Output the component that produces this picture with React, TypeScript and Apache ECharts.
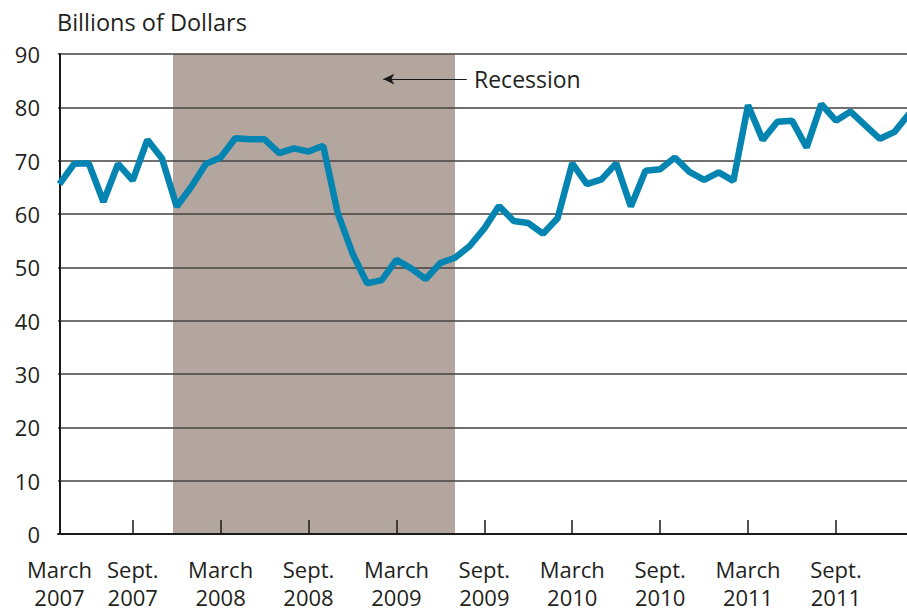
import React, { useEffect, useRef } from "react";
import * as echarts from "echarts";

// Monthly index (0 = first point, March 2007 label) and values, billions of dollars
const values: number[] = [
  65.6, 69.4, 69.5, 62.3, 69.4, 66.3, 73.9, 70.4, 61.4, 65.1,
  69.4, 70.6, 74.2, 74.0, 74.0, 71.4, 72.3, 71.7, 72.8, 60.1,
  52.6, 47.0, 47.6, 51.4, 49.8, 47.8, 50.8, 51.8, 54.0, 57.3,
  61.5, 58.7, 58.3, 56.3, 59.2, 69.5, 65.6, 66.5, 69.5, 61.4,
  68.1, 68.4, 70.6, 67.9, 66.4, 67.8, 66.2, 80.4, 73.9, 77.3,
  77.5, 72.5, 80.6, 77.5, 79.2, 76.6, 74.1, 75.4, 78.8,
];

const tickPositions: number[] = [5, 11, 17, 23, 29, 35, 41, 47, 53];
const labelPositions: number[] = [0, 5, 11, 17, 23, 29, 35, 41, 47, 53];
const labelTexts: string[] = [
  "March\n2007", "Sept.\n2007", "March\n2008", "Sept.\n2008", "March\n2009",
  "Sept.\n2009", "March\n2010", "Sept.\n2010", "March\n2011", "Sept.\n2011",
];

const recessionStart = 7.75;
const recessionEnd = 27;
const arrowFrom = 27.8;
const arrowTo = 22.1;
const arrowY = 85.3;

const FONT = "'Open Sans', 'Noto Sans', sans-serif";
const TEXT = "#231f20";

export default function App() {
  const ref = useRef<HTMLDivElement>(null);
  useEffect(() => {
    if (!ref.current) return;
    const chart = echarts.init(ref.current, undefined, { renderer: "svg" });
    const data = values.map((v, i) => [i, v]);
    chart.setOption({
      animation: false,
      backgroundColor: "#ffffff",
      grid: {
        left: 58,
        right: 0,
        top: 54,
        bottom: 78,
        containLabel: false,
        outerBoundsMode: "none",
      },
      xAxis: {
        type: "value",
        min: -0.1,
        max: 57.85,
        z: 3,
        axisLine: { show: true, lineStyle: { color: "#1a1a1a", width: 2 } },
        splitLine: { show: false },
        axisTick: {
          show: true,
          inside: true,
          length: 14,
          customValues: tickPositions,
          lineStyle: { color: "#1a1a1a", width: 1.5 },
        },
        axisLabel: {
          customValues: labelPositions,
          formatter: (v: number) => {
            const idx = labelPositions.indexOf(Math.round(v));
            return idx >= 0 ? labelTexts[idx] : "";
          },
          fontSize: 22,
          lineHeight: 28,
          margin: 21,
          color: TEXT,
          fontFamily: FONT,
        },
      },
      yAxis: {
        type: "value",
        min: 0,
        max: 90,
        interval: 10,
        z: 3,
        axisLine: { show: true, lineStyle: { color: "#1a1a1a", width: 2 } },
        axisTick: { show: false },
        splitLine: { show: true, lineStyle: { color: "#45423f", width: 1.6 } },
        axisLabel: {
          fontSize: 22,
          margin: 18,
          color: TEXT,
          fontFamily: FONT,
        },
      },
      series: [
        {
          type: "line",
          data: [],
          z: 1,
          silent: true,
          markArea: {
            silent: true,
            itemStyle: { color: "#b3a69f", opacity: 1 },
            data: [[{ xAxis: recessionStart }, { xAxis: recessionEnd }]],
          },
        },
        {
          type: "line",
          data,
          z: 5,
          clip: true,
          showSymbol: false,
          symbol: "none",
          lineStyle: { color: "#0484b0", width: 6.5 },
          markLine: {
            silent: true,
            symbol: ["none", "arrow"],
            symbolSize: [8, 11],
            label: { show: false },
            lineStyle: { color: "#1a1a1a", width: 1.2, type: "solid" },
            data: [[{ coord: [arrowFrom, arrowY] }, { coord: [arrowTo, arrowY] }]],
          },
        },
      ],
      graphic: [
        {
          type: "text",
          left: 57,
          top: 10,
          style: {
            text: "Billions of Dollars",
            fontSize: 23.5,
            fontFamily: FONT,
            fill: TEXT,
          },
        },
        {
          type: "text",
          x: 474,
          y: 79,
          style: {
            text: "Recession",
            fontSize: 23,
            fontFamily: FONT,
            fill: TEXT,
            textVerticalAlign: "middle",
          },
        },
      ],
    });
    return () => chart.dispose();
  }, []);
  return (
    <div
      ref={ref}
      style={{ position: "fixed", left: 0, top: 0, width: 907, height: 612 }}
    />
  );
}
